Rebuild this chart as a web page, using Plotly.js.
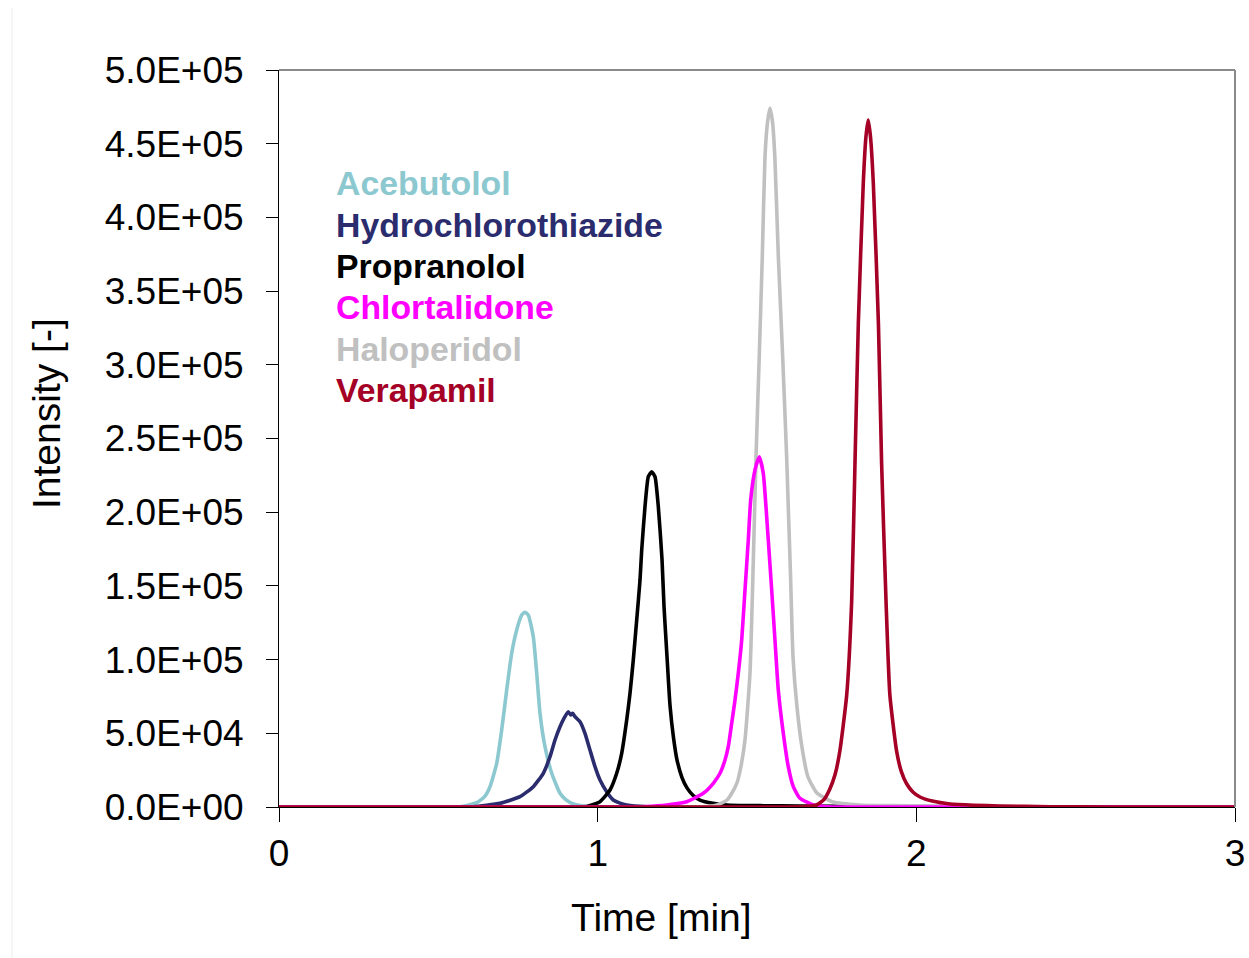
<!DOCTYPE html>
<html>
<head>
<meta charset="utf-8">
<script src="https://cdn.plot.ly/plotly-3.0.1.min.js"></script>
<style>html,body{margin:0;padding:0;background:#fff;}#chart{width:1249px;height:958px;}</style>
</head>
<body>
<div id="chart"></div>
<script>
// ---- data ----
const seriesNames = ["Acebutolol", "Hydrochlorothiazide", "Propranolol", "Chlortalidone", "Haloperidol", "Verapamil"];
const seriesColors = ["#8CC8CF", "#2A2C6E", "#000000", "#FF00FF", "#C0C0C0", "#A50026"];

const timeAcebutolol = [0, 0.50, 0.568, 0.6204, 0.645, 0.6621, 0.6832, 0.6988, 0.7145, 0.7302, 0.7459, 0.7616, 0.7720, 0.7823, 0.7980, 0.8087, 0.8190, 0.8347, 0.8558, 0.8818, 0.900, 0.9235, 0.9759, 1.05, 3];
const intAcebutolol  = [0, 0, 200, 2917, 7000, 13772, 29647, 52239, 79376, 104275, 120082, 130259, 132091, 130259, 115537, 90706, 63569, 40909, 22863, 9294, 5000, 2035, 200, 0, 0];

const timeHydro = [0, 0.55, 0.6097, 0.6935, 0.7563, 0.7980, 0.8294, 0.8504, 0.8661, 0.8818, 0.8943, 0.9078, 0.9154, 0.9216, 0.9289, 0.9446, 0.9602, 0.9759, 0.9916, 1.0073, 1.0283, 1.0490, 1.0700, 1.0911, 1.1539, 1.32, 3];
const intHydro  = [0, 0, 200, 2510, 6988, 13772, 22863, 34125, 45455, 54478, 60177, 64654, 62416, 63569, 61262, 57870, 50000, 38670, 27341, 18318, 10380, 4749, 2600, 1357, 200, 0, 0];

const timeProp = [0, 0.90, 0.94, 0.9656, 1.0073, 1.0387, 1.0597, 1.0754, 1.0911, 1.1015, 1.1118, 1.1225, 1.1329, 1.1382, 1.1485, 1.1589, 1.1695, 1.1799, 1.1903, 1.2019, 1.2082, 1.2176, 1.2270, 1.2380, 1.2489, 1.2646, 1.2803, 1.2991, 1.3211, 1.3619, 1.4059, 1.5094, 1.6350, 1.886, 2.106, 2.262, 2.45, 3];
const intProp  = [0, 0, 80, 400, 3596, 11533, 22863, 36432, 59023, 77137, 99729, 126866, 154003, 174355, 203730, 224090, 227476, 224090, 203730, 168000, 136000, 102000, 69000, 47000, 32000, 20000, 13000, 8000, 4700, 2500, 1400, 900, 600, 350, 100, 20, 0, 0];

const timeChlor = [0, 1.07, 1.15, 1.2166, 1.2794, 1.3315, 1.3629, 1.3839, 1.3996, 1.4099, 1.4206, 1.4310, 1.4413, 1.4520, 1.4623, 1.4727, 1.4802, 1.4937, 1.5072, 1.5197, 1.5282, 1.5354, 1.5461, 1.5564, 1.5668, 1.5825, 1.5982, 1.6139, 1.6349, 1.6767, 1.7187, 1.78, 1.855, 3];
const intChlor  = [0, 0, 300, 1357, 3596, 9294, 16079, 22863, 31886, 40909, 56785, 72592, 90706, 113298, 147219, 181141, 208278, 228631, 237654, 226392, 203730, 181141, 147219, 113298, 79376, 50000, 27341, 13772, 5902, 1357, 200, 40, 0, 0];

const timeHalo = [0, 1.30, 1.35, 1.374, 1.39, 1.406, 1.42, 1.437, 1.45, 1.4623, 1.478, 1.4874, 1.4969, 1.507, 1.5166, 1.525, 1.5333, 1.5407, 1.5485, 1.556, 1.567, 1.5806, 1.593, 1.5987, 1.605, 1.613, 1.6255, 1.641, 1.660, 1.688, 1.7385, 1.823, 1.93, 2.043, 2.263, 2.42, 2.6, 3];
const intHalo  = [0, 0, 500, 1357, 2800, 4749, 9000, 16282, 28000, 45455, 90909, 158752, 237449, 305292, 373134, 440977, 465000, 474220, 465000, 440977, 373134, 305292, 237449, 200000, 158752, 101764, 67843, 40706, 20353, 9498, 3392, 1357, 950, 700, 250, 80, 0, 0];

const timeVera = [0, 1.60, 1.65, 1.687, 1.71, 1.7286, 1.745, 1.760, 1.7815, 1.797, 1.8075, 1.818, 1.8335, 1.842, 1.849, 1.856, 1.865, 1.881, 1.891, 1.905, 1.917, 1.938, 1.953, 1.970, 1.990, 2.0115, 2.05, 2.106, 2.18, 2.26, 2.42, 2.6, 3];
const intVera  = [0, 0, 300, 1357, 5000, 12212, 22000, 37992, 75984, 139077, 233379, 328358, 423338, 455000, 466079, 455000, 423338, 328358, 233379, 139077, 75984, 37992, 24000, 15604, 10000, 6784, 4000, 2035, 1200, 700, 150, 0, 0];

const xTickVals = [0, 1, 2, 3];
const xTickText = ["0", "1", "2", "3"];
const yTickVals = [0, 50000, 100000, 150000, 200000, 250000, 300000, 350000, 400000, 450000, 500000];
const yTickText = ["0.0E+00", "5.0E+04", "1.0E+05", "1.5E+05", "2.0E+05", "2.5E+05", "3.0E+05", "3.5E+05", "4.0E+05", "4.5E+05", "5.0E+05"];
const xTitle = "Time [min]";
const yTitle = "Intensity [-]";

// ---- build traces (drawing order: gray under magenta, red on top) ----
const FONT = "'Liberation Sans', Arial, sans-serif";
const seriesX = [timeAcebutolol, timeHydro, timeProp, timeChlor, timeHalo, timeVera];
const seriesY = [intAcebutolol, intHydro, intProp, intChlor, intHalo, intVera];
const drawOrder = [0, 1, 2, 4, 3, 5];
const traces = drawOrder.map(i => ({
  type: "scatter", mode: "lines", name: seriesNames[i],
  x: seriesX[i], y: seriesY[i],
  line: {color: seriesColors[i], width: 3.6, shape: "spline", smoothing: 0.5},
  hoverinfo: "skip", showlegend: false
}));

// legend as coloured bold text
const legendTop = 183.3, legendStep = 41.35, plotTop = 70, plotH = 737, plotL = 279, plotW = 956;
const annotations = seriesNames.map((n, i) => ({
  xref: "paper", yref: "paper",
  x: (334 - plotL) / plotW, y: (plotTop + plotH - (legendTop + i * legendStep)) / plotH,
  xanchor: "left", yanchor: "middle", showarrow: false,
  text: "<b>" + n + "</b>",
  font: {family: FONT, size: 33.8, color: seriesColors[i]}
}));
annotations.push({
  xref: "paper", yref: "paper", x: (661 - plotL) / plotW, y: (plotTop + plotH - 917) / plotH,
  xanchor: "center", yanchor: "middle", showarrow: false, text: xTitle,
  font: {family: FONT, size: 39, color: "#000"}
});
annotations.push({
  xref: "paper", yref: "paper", x: (46 - plotL) / plotW, y: (plotTop + plotH - 414) / plotH,
  xanchor: "center", yanchor: "middle", showarrow: false, text: yTitle, textangle: -90,
  font: {family: FONT, size: 39, color: "#000"}
});

const layout = {
  width: 1249, height: 958,
  margin: {l: 279, r: 14, t: 70, b: 151, pad: 0},
  paper_bgcolor: "#fff", plot_bgcolor: "#fff",
  font: {family: FONT, color: "#000"},
  xaxis: {
    range: [0, 3], tickmode: "array", tickvals: xTickVals, ticktext: xTickText,
    ticks: "outside", ticklen: 14, tickwidth: 1, tickcolor: "#000",
    showline: true, linecolor: "#000", linewidth: 1,
    showgrid: false, zeroline: false, tickfont: {family: FONT, size: 37, color: "#000"},
    ticklabelstandoff: 0, fixedrange: true
  },
  yaxis: {
    range: [0, 500000], tickmode: "array", tickvals: yTickVals, ticktext: yTickText,
    ticks: "outside", ticklen: 12, tickwidth: 1, tickcolor: "#000",
    showline: true, linecolor: "#000", linewidth: 1,
    showgrid: false, zeroline: false, tickfont: {family: FONT, size: 37, color: "#000"},
    ticklabelstandoff: 15, fixedrange: true
  },
  shapes: [
    {type: "line", xref: "paper", yref: "paper", x0: 0, x1: 1, y0: 1, y1: 1, line: {color: "#8a8a8a", width: 2}},
    {type: "line", xref: "paper", yref: "paper", x0: 1, x1: 1, y0: 0, y1: 1, line: {color: "#8a8a8a", width: 2}},
    {type: "line", xref: "paper", yref: "paper", x0: (12 - plotL) / plotW, x1: (12 - plotL) / plotW, y0: (plotTop + plotH - 8) / plotH, y1: (plotTop + plotH - 958) / plotH, line: {color: "#ececec", width: 1}}
  ],
  annotations: annotations
};

Plotly.newPlot("chart", traces, layout, {staticPlot: true, displayModeBar: false});
</script>
</body>
</html>
